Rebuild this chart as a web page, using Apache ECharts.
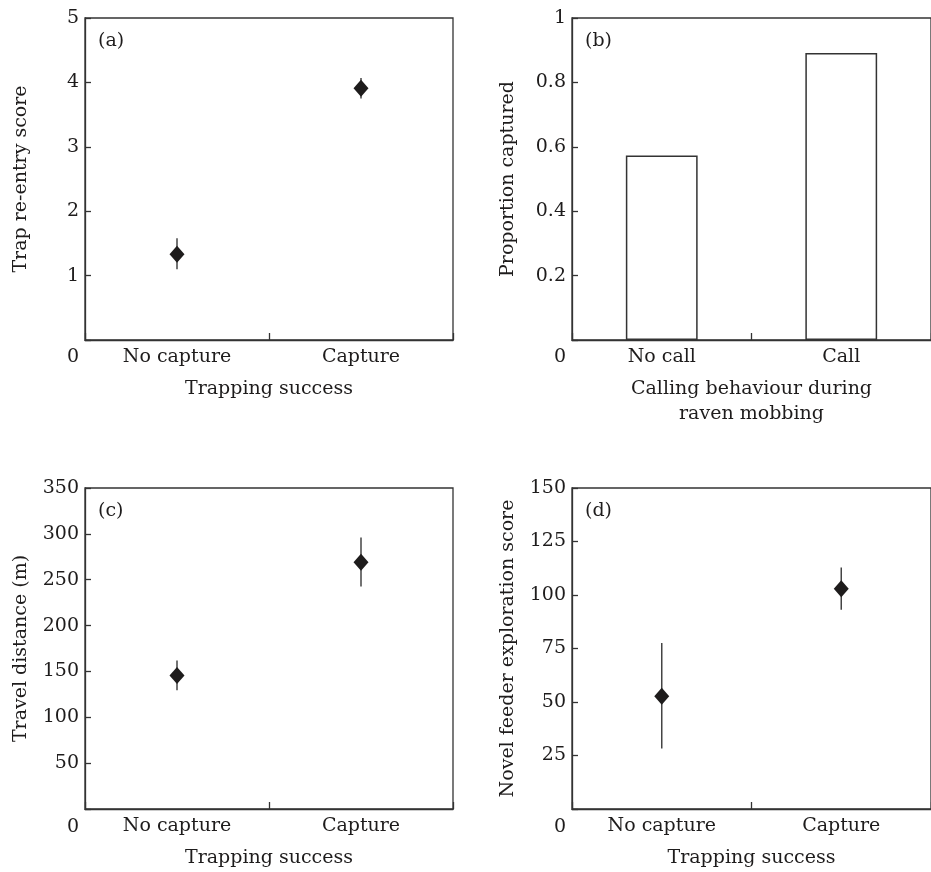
<!DOCTYPE html>
<html>
<head>
<meta charset="utf-8">
<script src="https://cdn.jsdelivr.net/npm/echarts@6/dist/echarts.min.js"></script>
<style>
html,body{margin:0;padding:0;background:#fff;}
#chart{width:931px;height:872px;}
</style>
</head>
<body>
<div id="chart"></div>
<script>
// ---- data ----
const trapCats = ['No capture', 'Capture'];
const callCats = ['No call', 'Call'];

// (a) Trap re-entry score: mean, lower, upper
const reentryMean = [1.33, 3.91];
const reentryLow  = [1.10, 3.75];
const reentryHigh = [1.58, 4.07];

// (b) Proportion captured
const propCaptured = [0.573, 0.891];

// (c) Travel distance (m)
const travelMean = [145.5, 269];
const travelLow  = [129.5, 242.5];
const travelHigh = [162, 296];

// (d) Novel feeder exploration score
const feederMean = [52.7, 102.9];
const feederLow  = [28.3, 93.1];
const feederHigh = [77.6, 112.8];

const yTicksA = {min: 0, max: 5, interval: 1};
const yTicksB = {min: 0, max: 1, interval: 0.2};
const yTicksC = {min: 0, max: 350, interval: 50};
const yTicksD = {min: 0, max: 150, interval: 25};

const panelLabels = ['(a)', '(b)', '(c)', '(d)'];
const yNames = ['Trap re-entry score', 'Proportion captured', 'Travel distance (m)', 'Novel feeder exploration score'];
const xNames = ['Trapping success', 'Calling behaviour during\nraven mobbing', 'Trapping success', 'Trapping success'];

// ---- style ----
const FONT = 'DejaVu Serif';
const FS = 19;
const TXT = '#1e1c1c';
const LINE = '#333';

const grids = [
  {left: 85, top: 18, width: 368, height: 322},
  {left: 572, top: 18, width: 368, height: 322},
  {left: 85, top: 488, width: 368, height: 322},
  {left: 572, top: 488, width: 368, height: 322}
];

const chart = echarts.init(document.getElementById('chart'), null, {renderer: 'canvas'});

const gridOpts = grids.map(g => Object.assign({}, g, {
  show: true, borderColor: LINE, borderWidth: 1.3, backgroundColor: 'transparent', containLabel: false
}));

const xCats = [trapCats, callCats, trapCats, trapCats];
const xAxes = xCats.map((cats, i) => ({
  type: 'category', gridIndex: i, data: cats,
  boundaryGap: true,
  axisLine: {lineStyle: {color: LINE, width: 1.3}},
  axisTick: {show: true, inside: true, length: 7, interval: 0, lineStyle: {color: LINE, width: 1.3}},
  axisLabel: {fontFamily: FONT, fontSize: FS, color: TXT, margin: 8, interval: 0},
  name: xNames[i], nameLocation: 'middle', nameGap: 37,
  nameTextStyle: {fontFamily: FONT, fontSize: FS, color: TXT, lineHeight: 25, verticalAlign: 'top'},
  splitLine: {show: false}
}));

const yScales = [yTicksA, yTicksB, yTicksC, yTicksD];
const yAxes = yScales.map((s, i) => ({
  type: 'value', gridIndex: i, min: s.min, max: s.max, interval: s.interval,
  axisLine: {show: true, lineStyle: {color: LINE, width: 1.3}},
  axisTick: {show: true, inside: true, length: 6, lineStyle: {color: LINE, width: 1.3}},
  axisLabel: {
    fontFamily: FONT, fontSize: FS, color: TXT, margin: 6,
    formatter: v => (v === 0 ? '' : String(Math.round(v * 100) / 100))
  },
  name: yNames[i], nameLocation: 'middle', nameGap: 54, nameRotate: 90,
  nameTextStyle: {fontFamily: FONT, fontSize: FS, color: TXT},
  splitLine: {show: false}
}));

function errorSeries(idx, low, high) {
  return {
    type: 'custom', xAxisIndex: idx, yAxisIndex: idx,
    data: low.map((l, i) => [i, l, high[i]]),
    renderItem: function (params, api) {
      const p1 = api.coord([api.value(0), api.value(1)]);
      const p2 = api.coord([api.value(0), api.value(2)]);
      return {type: 'line', shape: {x1: p1[0], y1: p1[1], x2: p2[0], y2: p2[1]},
        style: {stroke: '#444', lineWidth: 1.5}};
    },
    z: 2, silent: true
  };
}
function meanSeries(idx, mean) {
  return {
    type: 'scatter', xAxisIndex: idx, yAxisIndex: idx,
    data: mean.map((m, i) => [i, m]),
    symbol: 'diamond', symbolSize: [15, 17],
    itemStyle: {color: '#1e1c1c', opacity: 1},
    z: 3, silent: true
  };
}

const series = [
  errorSeries(0, reentryLow, reentryHigh), meanSeries(0, reentryMean),
  {
    type: 'bar', xAxisIndex: 1, yAxisIndex: 1, data: propCaptured, barWidth: '40%',
    itemStyle: {color: '#fff', borderColor: LINE, borderWidth: 1.5}, silent: true
  },
  errorSeries(2, travelLow, travelHigh), meanSeries(2, travelMean),
  errorSeries(3, feederLow, feederHigh), meanSeries(3, feederMean)
];

const graphics = [];
grids.forEach((g, i) => {
  graphics.push({
    type: 'text', left: g.left + 13, top: g.top + 14,
    style: {text: panelLabels[i], font: FS + 'px "' + FONT + '"', fill: TXT}
  });
  graphics.push({
    type: 'text', x: g.left - 12, y: g.top + g.height + 17,
    style: {text: '0', font: FS + 'px "' + FONT + '"', fill: TXT, align: 'center', verticalAlign: 'middle'}
  });
});

chart.setOption({
  animation: false,
  backgroundColor: '#fff',
  grid: gridOpts,
  xAxis: xAxes,
  yAxis: yAxes,
  series: series,
  graphic: graphics
});
</script>
</body>
</html>
